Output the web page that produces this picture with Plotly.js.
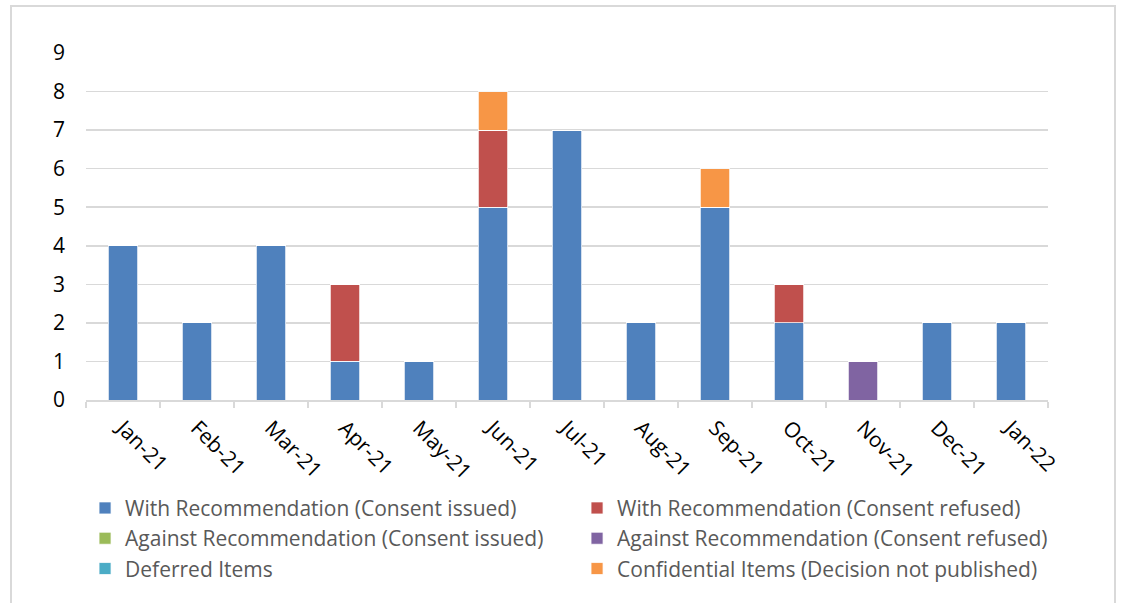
<!DOCTYPE html>
<html>
<head>
<meta charset="utf-8">
<script src="https://cdn.plot.ly/plotly-3.0.1.min.js"></script>
<style>
body{margin:0;padding:0;background:#fff;}
#frame{position:absolute;left:10px;top:5px;width:1106px;height:620px;border:2px solid #d9d9d9;border-bottom:none;box-sizing:border-box;}
#chart{position:absolute;left:0;top:0;width:1122px;height:603px;}
</style>
</head>
<body>
<div id="frame"></div>
<div id="chart"></div>
<script>
const months = ["Jan-21","Feb-21","Mar-21","Apr-21","May-21","Jun-21","Jul-21","Aug-21","Sep-21","Oct-21","Nov-21","Dec-21","Jan-22"];
const withIssued   = [4,2,4,1,1,5,7,2,5,2,0,2,2];
const withRefused  = [0,0,0,2,0,2,0,0,0,1,0,0,0];
const againstIssued= [0,0,0,0,0,0,0,0,0,0,0,0,0];
const againstRefused=[0,0,0,0,0,0,0,0,0,0,1,0,0];
const deferred     = [0,0,0,0,0,0,0,0,0,0,0,0,0];
const confidential = [0,0,0,0,0,1,0,0,1,0,0,0,0];

const seriesNames = [
  "With Recommendation (Consent issued)",
  "With Recommendation (Consent refused)",
  "Against Recommendation (Consent issued)",
  "Against Recommendation (Consent refused)",
  "Deferred Items",
  "Confidential Items (Decision not published)"
];
const seriesData = [withIssued, withRefused, againstIssued, againstRefused, deferred, confidential];
const colors = ["#4F81BD","#C0504D","#9BBB59","#8064A2","#4BACC6","#F79646"];

const traces = seriesData.map((d,i)=>({
  type:"bar", x:months, y:d, name:seriesNames[i],
  marker:{color:colors[i], line:{color:"#ffffff", width:0.75}},
  hoverinfo:"x+y+name"
}));

const layout = {
  width:1122, height:603,
  margin:{l:86, r:74, t:53, b:203},
  paper_bgcolor:"rgba(0,0,0,0)", plot_bgcolor:"rgba(0,0,0,0)",
  barmode:"stack", bargap:0.6,
  font:{family:"Open Sans, sans-serif", size:21, color:"#000"},
  xaxis:{type:"category", tickangle:45, showgrid:false, showline:true, linecolor:"#d9d9d9", linewidth:1.5,
         ticks:"outside", tickson:"boundaries", ticklen:6, tickcolor:"#d9d9d9", tickwidth:1.5,
         ticklabelstandoff:6, tickfont:{size:21, color:"#000"}},
  yaxis:{range:[0,9], dtick:1, showgrid:true, gridcolor:"#d9d9d9", gridwidth:1.5, zeroline:false,
         showline:false, ticks:"", ticklabelstandoff:20, tickfont:{size:21, color:"#000"}},
  legend:{orientation:"h", x:-0.001, xanchor:"left", y:-0.253, yanchor:"top",
          entrywidth:447, entrywidthmode:"pixels", traceorder:"normal",
          font:{size:21, color:"#595959"}, tracegroupgap:0, itemclick:false},
  showlegend:true
};
Plotly.newPlot("chart", traces, layout, {displayModeBar:false, staticPlot:true});
</script>
</body>
</html>
